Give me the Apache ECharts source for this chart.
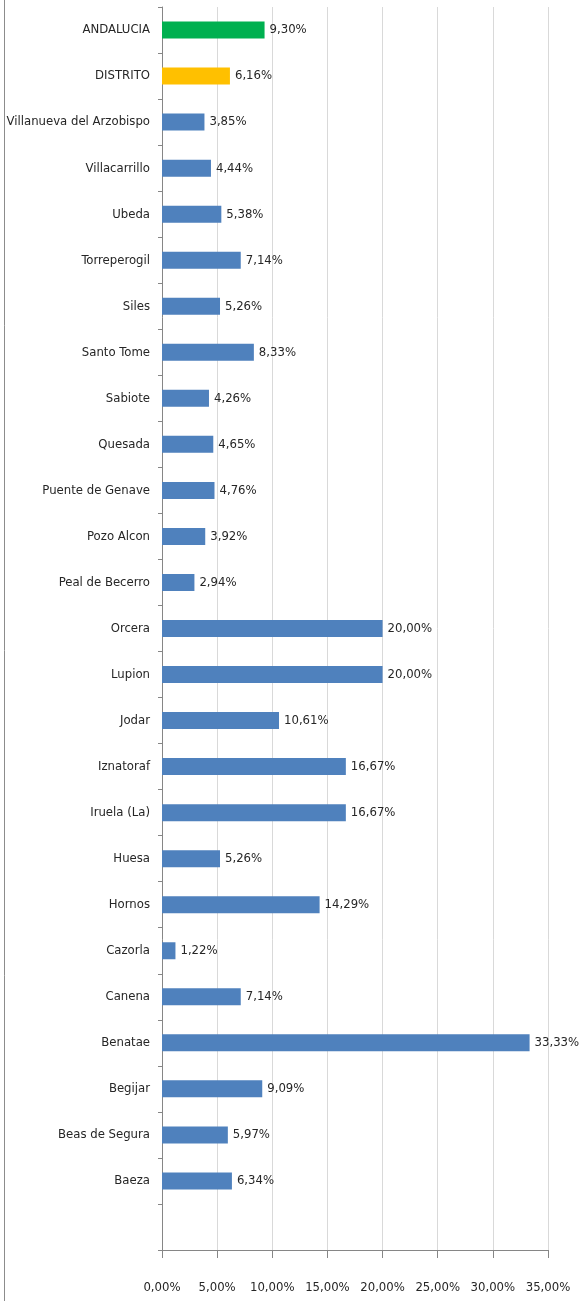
<!DOCTYPE html>
<html><head><meta charset="utf-8">
<script src="https://cdn.jsdelivr.net/npm/echarts@6/dist/echarts.min.js"></script>
<style>html,body{margin:0;padding:0;background:#fff}#c{width:580px;height:1301px}</style>
</head><body><div id="c"></div>
<script>
const categories = ["ANDALUCIA","DISTRITO","Villanueva del Arzobispo","Villacarrillo","Ubeda","Torreperogil","Siles","Santo Tome","Sabiote","Quesada","Puente de Genave","Pozo Alcon","Peal de Becerro","Orcera","Lupion","Jodar","Iznatoraf","Iruela (La)","Huesa","Hornos","Cazorla","Canena","Benatae","Begijar","Beas de Segura","Baeza",""];
const values = [9.30,6.16,3.85,4.44,5.38,7.14,5.26,8.33,4.26,4.65,4.76,3.92,2.94,20.00,20.00,10.61,16.67,16.67,5.26,14.29,1.22,7.14,33.33,9.09,5.97,6.34,null];
const colors = ["#00B050","#FFC000"];
const defaultColor = "#4F81BD";
const xTicks = [0,5,10,15,20,25,30,35];
const FONT = "'Liberation Sans Narrow','DejaVu Sans Condensed',sans-serif";
const fmt = v => v.toFixed(2).replace('.', ',') + '%';
const chart = echarts.init(document.getElementById('c'));
chart.setOption({
  animation:false,
  grid:{left:162,right:32,top:7,bottom:51,containLabel:false,outerBoundsMode:'none'},
  graphic:[{type:'line',shape:{x1:4.5,y1:0,x2:4.5,y2:1301},style:{stroke:'#8c8c8c',lineWidth:1}}],
  xAxis:{type:'value',min:xTicks[0],max:xTicks[xTicks.length-1],interval:5,
    axisLine:{show:true,lineStyle:{color:'#868686'}},
    axisTick:{show:true,length:8,lineStyle:{color:'#868686'}},
    splitLine:{show:true,lineStyle:{color:'#d9d9d9'}},
    axisLabel:{margin:31,fontFamily:FONT,fontSize:13,color:'#262626',formatter:v=>fmt(v),hideOverlap:false}},
  yAxis:{type:'category',inverse:true,data:categories,
    axisLine:{show:true,lineStyle:{color:'#868686'}},
    axisTick:{show:true,length:4,alignWithLabel:false,lineStyle:{color:'#868686'}},
    axisLabel:{margin:12,fontFamily:FONT,fontSize:13,color:'#262626',interval:0}},
  series:[{type:'bar',barWidth:17,
    data:values.map((v,i)=>({value:v,itemStyle:{color:colors[i]||defaultColor}})),
    label:{show:true,position:'right',distance:5,fontFamily:FONT,fontSize:13,color:'#262626',
      formatter:p=>p.value==null?'':fmt(p.value)}}]
});
</script></body></html>
